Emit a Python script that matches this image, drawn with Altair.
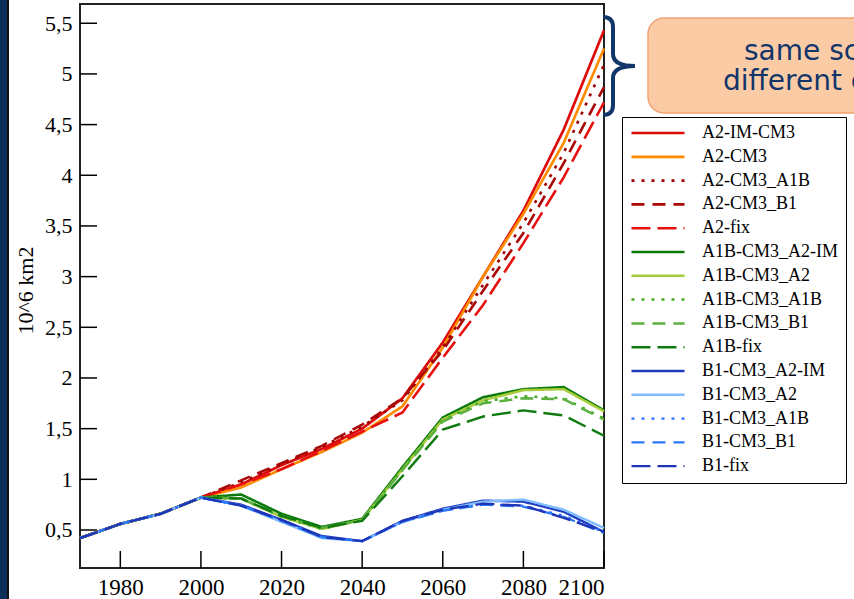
import altair as alt
import pandas as pd

years = [1970, 1980, 1990, 2000, 2010, 2020, 2030, 2040, 2050, 2060, 2070, 2080, 2090, 2100]
history = [0.42, 0.56, 0.66]

series_names = [
    "A2-IM-CM3", "A2-CM3", "A2-CM3_A1B", "A2-CM3_B1", "A2-fix",
    "A1B-CM3_A2-IM", "A1B-CM3_A2", "A1B-CM3_A1B", "A1B-CM3_B1", "A1B-fix",
    "B1-CM3_A2-IM", "B1-CM3_A2", "B1-CM3_A1B", "B1-CM3_B1", "B1-fix",
]

# values from 2000 to 2100 (decadal)
a2_im_cm3 = [0.82, 0.95, 1.14, 1.30, 1.50, 1.80, 2.35, 3.00, 3.65, 4.45, 5.43]
a2_cm3 = [0.82, 0.92, 1.10, 1.27, 1.46, 1.72, 2.30, 3.00, 3.62, 4.32, 5.25]
a2_cm3_a1b = [0.82, 0.97, 1.15, 1.32, 1.52, 1.78, 2.30, 2.92, 3.53, 4.22, 5.09]
a2_cm3_b1 = [0.82, 0.99, 1.16, 1.33, 1.54, 1.80, 2.27, 2.86, 3.43, 4.12, 4.87]
a2_fix = [0.82, 0.95, 1.10, 1.28, 1.47, 1.66, 2.20, 2.72, 3.33, 3.98, 4.72]
a1b_cm3_a2_im = [0.82, 0.85, 0.66, 0.53, 0.61, 1.12, 1.61, 1.81, 1.89, 1.91, 1.68]
a1b_cm3_a2 = [0.82, 0.81, 0.63, 0.51, 0.60, 1.10, 1.59, 1.78, 1.88, 1.89, 1.67]
a1b_cm3_a1b = [0.82, 0.81, 0.63, 0.51, 0.60, 1.10, 1.58, 1.77, 1.82, 1.80, 1.60]
a1b_cm3_b1 = [0.82, 0.81, 0.64, 0.52, 0.60, 1.09, 1.57, 1.75, 1.80, 1.79, 1.59]
a1b_fix = [0.82, 0.81, 0.64, 0.52, 0.59, 1.03, 1.49, 1.62, 1.68, 1.63, 1.43]
b1_cm3_a2_im = [0.82, 0.75, 0.60, 0.44, 0.39, 0.59, 0.71, 0.79, 0.78, 0.68, 0.48]
b1_cm3_a2 = [0.82, 0.74, 0.58, 0.42, 0.39, 0.58, 0.70, 0.78, 0.80, 0.70, 0.52]
b1_cm3_a1b = [0.82, 0.74, 0.59, 0.43, 0.39, 0.58, 0.69, 0.75, 0.74, 0.64, 0.48]
b1_cm3_b1 = [0.82, 0.74, 0.59, 0.43, 0.39, 0.58, 0.69, 0.75, 0.73, 0.63, 0.47]
b1_fix = [0.82, 0.74, 0.60, 0.43, 0.39, 0.59, 0.70, 0.76, 0.74, 0.62, 0.48]

series_values = [
    a2_im_cm3, a2_cm3, a2_cm3_a1b, a2_cm3_b1, a2_fix,
    a1b_cm3_a2_im, a1b_cm3_a2, a1b_cm3_a1b, a1b_cm3_b1, a1b_fix,
    b1_cm3_a2_im, b1_cm3_a2, b1_cm3_a1b, b1_cm3_b1, b1_fix,
]

colors = [
    "#DD0A0A", "#FF8C00", "#A00000", "#A80808", "#E61010",
    "#0A7A0A", "#A6CC3C", "#44AA22", "#5BB040", "#107A10",
    "#1E3CC0", "#7EBCFF", "#2F6FFF", "#2A7AF5", "#1F35B5",
]
dashes = [
    [1, 0], [1, 0], [3, 7], [13, 8], [19, 7],
    [1, 0], [1, 0], [3, 7], [13, 8], [19, 7],
    [1, 0], [1, 0], [3, 7], [13, 8], [19, 7],
]
widths = [2.7, 2.3, 3, 3.2, 3, 3, 3.2, 3, 2.3, 3, 2.4, 3.3, 3, 3, 3]

y_ticks = [0.5, 1, 1.5, 2, 2.5, 3, 3.5, 4, 4.5, 5, 5.5]
x_ticks = [1980, 2000, 2020, 2040, 2060, 2080, 2100]

rows = []
for name, vals in zip(series_names, series_values):
    for yr, v in zip(years, history + vals):
        rows.append({"series": name, "year": yr, "value": v})
df = pd.DataFrame(rows)

W, H = 524, 564
SERIF = "Liberation Serif"
NAVY = "#12356A"

xscale = alt.Scale(domain=[1970, 2100], nice=False, zero=False)
yscale = alt.Scale(domain=[0.125, 5.69], nice=False, zero=False)

lines = alt.Chart(df).mark_line(strokeCap="butt").encode(
    x=alt.X("year:Q", scale=xscale, title=None,
            axis=alt.Axis(values=x_ticks, format="d", ticks=False, domain=False, grid=False,
                          labelFont=SERIF, labelFontSize=23, labelColor="black", labelPadding=8)),
    y=alt.Y("value:Q", scale=yscale, title="10^6 km2",
            axis=alt.Axis(values=y_ticks, ticks=False, domain=False, grid=False,
                          labelExpr="replace(format(datum.value, '.1~f'), '.', ',')",
                          labelFont=SERIF, labelFontSize=22, labelColor="black", labelPadding=8,
                          titleFont=SERIF, titleFontSize=22, titleFontWeight="normal",
                          titleColor="black", titleX=-55, titleY=286, titleAngle=-90,
                          titleAlign="center", titleBaseline="middle")),
    color=alt.Color("series:N", title=None, scale=alt.Scale(domain=series_names, range=colors),
                    legend=alt.Legend(orient="none", legendX=542, legendY=113,
                                      symbolType="M-4.08,0H4.08", symbolSize=169,
                                      symbolOffset=20, symbolStrokeWidth=3, labelFont=SERIF,
                                      labelFontSize=18, labelColor="black", labelOffset=35,
                                      padding=7, rowPadding=5.8, strokeColor="black",
                                      fillColor="white", labelLimit=300)),
    strokeDash=alt.StrokeDash("series:N", title=None, scale=alt.Scale(domain=series_names, range=dashes)),
    strokeWidth=alt.StrokeWidth("series:N", title=None, scale=alt.Scale(domain=series_names, range=widths)),
)

ytick_df = pd.DataFrame({"v": y_ticks})
xtick_df = pd.DataFrame({"v": x_ticks})

yticks = alt.Chart(ytick_df).mark_rule(color="black", strokeWidth=1.5).encode(
    y=alt.Y("v:Q", scale=yscale, title="10^6 km2"),
    x=alt.value(0), x2=alt.value(17),
)
xticks = alt.Chart(xtick_df).mark_rule(color="black", strokeWidth=1.5).encode(
    x=alt.X("v:Q", scale=xscale, title=None),
    y=alt.value(H - 17), y2=alt.value(H),
)

callout_df = pd.DataFrame({"line1": ["same scenario,"], "line2": ["different climate models"]})

callout_box = alt.Chart(callout_df).mark_rect(
    fill="#FBCBA6", stroke="#F3A273", strokeWidth=1.5, cornerRadius=16
).encode(x=alt.value(568), x2=alt.value(960), y=alt.value(14), y2=alt.value(109))

callout_t1 = alt.Chart(callout_df).mark_text(
    font="DejaVu Sans", fontSize=28, color=NAVY, align="left", baseline="alphabetic"
).encode(text="line1:N", x=alt.value(664), y=alt.value(56))

callout_t2 = alt.Chart(callout_df).mark_text(
    font="DejaVu Sans", fontSize=28, color=NAVY, align="left", baseline="alphabetic"
).encode(text="line2:N", x=alt.value(643), y=alt.value(86))

brace_path = ("M-0.32,-0.98 Q-0.12,-0.98 -0.12,-0.78 L-0.12,-0.24 Q-0.12,0 0.32,0 "
              "Q-0.12,0 -0.12,0.24 L-0.12,0.78 Q-0.12,0.98 -0.32,0.98")
brace = alt.Chart(callout_df).mark_point(
    shape=brace_path, filled=False, stroke=NAVY, strokeWidth=4, size=10000, opacity=1
).encode(x=alt.value(539), y=alt.value(62))

strip_navy = alt.Chart(callout_df).mark_rect(color="#0D2F5C").encode(
    x=alt.value(-80), x2=alt.value(-73), y=alt.value(-4), y2=alt.value(H + 31))
strip_black = alt.Chart(callout_df).mark_rect(color="#111111").encode(
    x=alt.value(-73), x2=alt.value(-71), y=alt.value(-4), y2=alt.value(H + 31))

chart = alt.layer(
    strip_navy, strip_black, callout_box, callout_t1, callout_t2, brace, yticks, xticks, lines
).properties(
    width=W, height=H,
    autosize=alt.AutoSizeParams(type="none"),
    padding={"left": 80, "top": 4, "right": 250, "bottom": 31},
    background="white",
).configure_view(stroke="#222222", strokeWidth=2)

chart.save("out.html", embed_options={"renderer": "svg", "actions": False})
